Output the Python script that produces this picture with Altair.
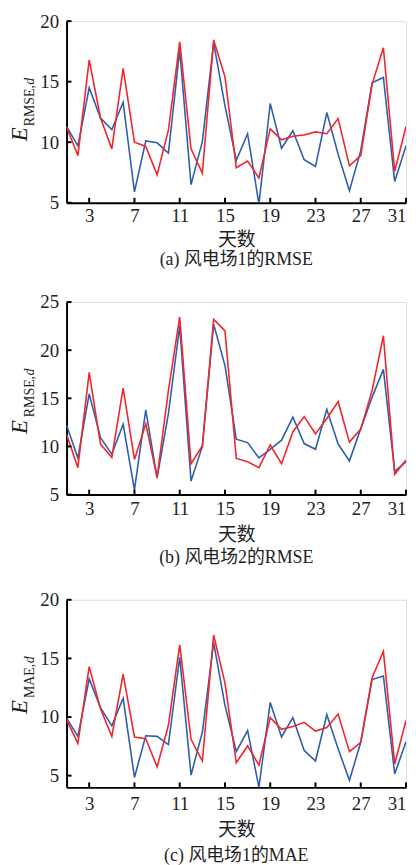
import altair as alt
import pandas as pd

days = list(range(1, 32))
x_ticks = [3, 7, 11, 15, 19, 23, 27, 31]

# Panel (a): wind farm 1, RMSE
a_blue = [11.3, 9.7, 14.5, 12.0, 11.05, 13.3, 5.9, 10.1, 9.95, 9.1, 17.6, 6.5, 10.05, 18.2, 13.0,
          8.5, 10.7, 4.9, 13.2, 9.5, 10.95, 8.55, 8.0, 12.45, 9.0, 6.0, 9.3, 14.9, 15.35, 6.75, 9.7]
a_red = [11.25, 8.9, 16.8, 12.0, 9.45, 16.1, 10.0, 9.65, 7.3, 11.0, 18.3, 9.45, 7.45, 18.45, 15.4,
         7.9, 8.45, 7.05, 11.1, 10.2, 10.5, 10.6, 10.85, 10.7, 11.95, 8.05, 8.9, 14.8, 17.8, 7.6, 11.3]

# Panel (b): wind farm 2, RMSE
b_blue = [12.2, 8.8, 15.45, 10.9, 9.2, 12.3, 5.5, 13.8, 6.7, 13.4, 22.5, 6.4, 10.0, 22.7, 18.4,
          10.75, 10.4, 8.8, 9.7, 10.65, 13.05, 10.3, 9.7, 13.85, 10.25, 8.5, 11.85, 15.1, 18.0, 7.4, 8.4]
b_red = [11.25, 7.8, 17.7, 10.25, 8.85, 16.05, 8.65, 12.35, 6.8, 15.8, 23.45, 8.2, 10.05, 23.2, 22.0,
         8.75, 8.4, 7.8, 10.15, 8.2, 11.5, 13.1, 11.3, 12.9, 14.65, 10.45, 11.8, 15.8, 21.5, 7.1, 8.6]

# Panel (c): wind farm 1, MAE
c_blue = [9.9, 8.35, 13.25, 10.8, 9.25, 11.6, 4.85, 8.4, 8.35, 7.65, 15.1, 5.05, 8.7, 16.35, 11.0,
          7.05, 8.85, 4.0, 11.25, 8.3, 9.95, 7.15, 6.25, 10.2, 7.3, 4.6, 7.85, 13.2, 13.5, 5.15, 7.9]
c_red = [9.75, 7.75, 14.3, 10.7, 8.35, 13.65, 8.3, 8.15, 5.75, 9.3, 16.15, 8.1, 6.25, 17.0, 12.9,
         6.1, 7.55, 5.9, 9.95, 8.95, 9.2, 9.55, 8.8, 9.1, 10.25, 7.05, 7.85, 13.35, 15.6, 6.0, 9.7]

BLUE = "#2f5fac"
RED = "#f0262c"
SERIF = "Liberation Serif"
MIXED = "Liberation Serif, Noto Sans CJK SC"
W = 342


def panel(blue, red, ydom, yticks, h, sub, sub_len, caption, e_y, sub_y, lab_pad, tit_pad, cap_off):
    df = pd.DataFrame({
        "day": days * 2,
        "value": blue + red,
        "series": ["s1"] * 31 + ["s2"] * 31,
    })
    xs = alt.Scale(domain=[1, 31], nice=False, zero=False)
    ys = alt.Scale(domain=ydom, nice=False, zero=False)
    lines = alt.Chart(df).mark_line(strokeWidth=1.6, clip=True).encode(
        x=alt.X("day:Q", scale=xs,
                axis=alt.Axis(values=x_ticks, title="天数", ticks=False, grid=False,
                              labelFont=SERIF, labelFontSize=19, labelColor="#222",
                              labelPadding=lab_pad, titleFont=MIXED, titleFontSize=19,
                              titleFontWeight="normal", titleColor="#222", titlePadding=tit_pad,
                              domainColor="black", domainWidth=2)),
        y=alt.Y("value:Q", scale=ys,
                axis=alt.Axis(values=yticks, title=None, ticks=False, grid=False,
                              labelFont=SERIF, labelFontSize=19, labelColor="#222",
                              labelPadding=8, domainColor="black", domainWidth=2)),
        color=alt.Color("series:N", scale=alt.Scale(domain=["s1", "s2"], range=[BLUE, RED]),
                        legend=None),
    )
    xt = alt.Chart(pd.DataFrame({"day": x_ticks})).mark_rule(color="black", strokeWidth=2).encode(
        x=alt.X("day:Q", scale=xs), y=alt.value(h), y2=alt.value(h - 5))
    yt = alt.Chart(pd.DataFrame({"value": yticks})).mark_rule(color="black", strokeWidth=2).encode(
        y=alt.Y("value:Q", scale=ys), x=alt.value(0), x2=alt.value(5))
    one = pd.DataFrame({"k": [0]})
    e_txt = alt.Chart(one).mark_text(text="E", angle=270, font=SERIF, fontStyle="italic",
                                     fontSize=23, color="#222", align="center",
                                     baseline="middle").encode(x=alt.value(-47), y=alt.value(e_y))
    s_txt = alt.Chart(one).mark_text(text=sub, angle=270, font=SERIF, fontSize=14,
                                     color="#222", align="left",
                                     baseline="middle").encode(x=alt.value(-37), y=alt.value(sub_y))
    d_txt = alt.Chart(one).mark_text(text="d", angle=270, font=SERIF, fontSize=14,
                                     fontStyle="italic", color="#222", align="left",
                                     baseline="middle").encode(x=alt.value(-37),
                                                               y=alt.value(sub_y - sub_len))
    return alt.layer(lines, xt, yt, e_txt, s_txt, d_txt).properties(
        width=W, height=h,
        title=alt.TitleParams(caption, orient="bottom", font=MIXED, fontSize=18,
                              fontWeight="normal", color="#222", offset=cap_off),
    )


pa = panel(a_blue, a_red, [5, 20], [5, 10, 15, 20], 183, "RMSE,", 42, "(a)  风电场1的RMSE",
           114, 106, 4, 5, 2)
pb = panel(b_blue, b_red, [5, 25], [5, 10, 15, 20, 25], 194, "RMSE,", 42, "(b)  风电场2的RMSE",
           126, 116, 5, 7, 5)
pc = panel(c_blue, c_red, [4, 20], [5, 10, 15, 20], 189, "MAE,", 35, "(c)  风电场1的MAE",
           108, 99, 7, 7, 8)

chart = alt.vconcat(pa, pb, pc, spacing=22).properties(padding=0).configure_view(
    stroke=None).configure(background="white")

chart.save("out.html", embed_options={"renderer": "svg", "actions": False})
